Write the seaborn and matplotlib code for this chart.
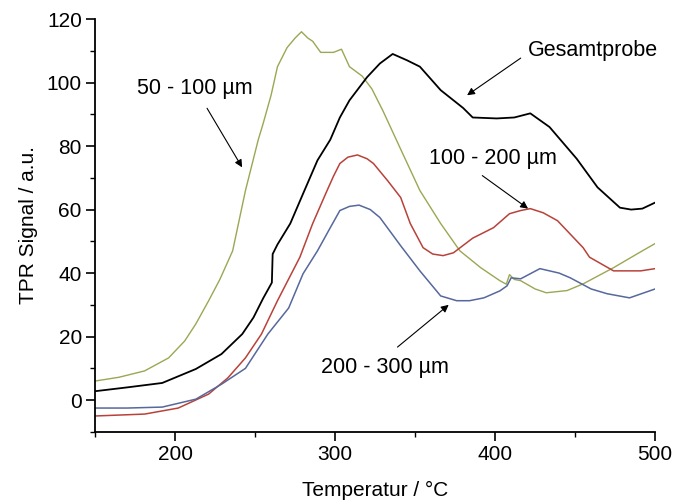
import numpy as np
import pandas as pd
import matplotlib
matplotlib.use("Agg")
import matplotlib.pyplot as plt
from matplotlib.ticker import MultipleLocator
import seaborn as sns

# ---- data ----
x_olive = [150, 165, 181, 196, 206, 213, 221, 228, 236, 244, 252, 255, 260, 264, 270, 275, 279, 283,
           286, 291, 299, 304, 309, 317, 323, 330, 341, 353, 366, 378, 391, 403, 407, 409, 412, 416,
           425, 432, 445, 455, 474, 492, 500]
y_olive = [6.0, 7.2, 9.2, 13.3, 18.6, 24, 31.3, 38, 47, 66, 82, 87, 96, 105, 111, 114, 116, 114,
           113, 109.5, 109.5, 110.5, 105, 102, 98, 91, 79, 66, 55.6, 47, 41.7, 37.6, 36.5, 39.5, 38, 37.6,
           35, 33.8, 34.5, 36.6, 41.7, 47, 49.3]

x_black = [150, 170, 192, 213, 229, 242, 249, 255, 260.5, 261, 264, 272, 280, 289, 297, 303, 309,
           320, 328, 336, 345, 353, 366, 380, 386, 401, 412, 422, 434, 451, 464, 478, 485, 492, 500]
y_black = [2.8, 4.0, 5.4, 9.8, 14.5, 20.8, 26, 32, 37, 46, 49, 55.6, 65, 75.5, 82, 89, 94.4,
           101.7, 106, 109, 107, 105, 97.6, 92, 89, 88.7, 89, 90.3, 86, 76, 67, 60.6, 60, 60.3, 62.2]

x_red = [150, 181, 202, 221, 233, 244, 254, 264, 278, 286, 295, 299, 303, 308, 314, 320, 324, 333, 341, 347,
         355, 361, 367.5, 374, 386, 399, 409, 416, 422, 430, 439, 455, 459, 474, 491, 500]
y_red = [-5, -4.4, -2.5, 1.9, 7, 13.3, 20.8, 31.3, 45, 55.6, 66, 70.5, 74.5, 76.5, 77.2, 76, 74.5, 69, 63.8, 55.6,
         48, 46, 45.5, 46.4, 51, 54.3, 58.7, 59.7, 60.3, 59, 56.5, 48, 45, 40.7, 40.7, 41.4]

x_blue = [150, 170, 192, 213, 229, 244, 258, 271, 280, 289, 297, 303, 309, 315, 322, 328, 341, 353, 366,
          376, 384, 393, 403, 407.5, 410, 416, 428, 440, 447, 460, 470, 484, 500]
y_blue = [-2.5, -2.5, -2.2, 0.3, 5, 10, 20.8, 29, 39.8, 47, 54.3, 59.7, 61, 61.4, 60, 57.5, 48.6, 40.7, 32.8,
          31.3, 31.3, 32.2, 34.4, 36, 38.5, 38.2, 41.4, 40, 38.5, 35, 33.5, 32.2, 35]

labels = ["50 - 100 µm", "Gesamtprobe", "100 - 200 µm", "200 - 300 µm"]
x_ticks = [200, 300, 400, 500]
y_ticks = [0, 20, 40, 60, 80, 100, 120]

sns.set_style("ticks")
plt.rcParams['font.family'] = ['Liberation Sans', 'DejaVu Sans']
plt.rcParams['font.size'] = 15
for k in ['text.color', 'axes.labelcolor', 'xtick.color', 'ytick.color', 'axes.edgecolor']:
    plt.rcParams[k] = 'black'

fig = plt.figure(figsize=(6.74, 5.01), dpi=100)
ax = fig.add_axes([0.141, 0.138, 0.831, 0.824])

series = [
    (x_olive, y_olive, "#9ca653", 1.0),
    (x_black, y_black, "#000000", 1.3),
    (x_red, y_red, "#b8423a", 1.1),
    (x_blue, y_blue, "#56689c", 1.1),
]
for xs, ys, c, lw in series:
    df = pd.DataFrame({"T": xs, "S": ys})
    sns.lineplot(data=df, x="T", y="S", ax=ax, color=c, lw=lw, sort=False, estimator=None)

ax.set_xlim(150, 500)
ax.set_ylim(-10, 120)
ax.set_xticks(x_ticks)
ax.set_yticks(y_ticks)
ax.xaxis.set_minor_locator(MultipleLocator(50))
ax.yaxis.set_minor_locator(MultipleLocator(10))
ax.tick_params(which='major', direction='out', length=6.5, width=1.2, labelsize=15, pad=3)
ax.tick_params(which='minor', direction='out', length=3.6, width=1.0)
sns.despine(ax=ax)
for s in ['left', 'bottom']:
    ax.spines[s].set_linewidth(1.3)
ax.set_xlabel("Temperatur / °C", fontsize=15, labelpad=12)
ax.set_ylabel("TPR Signal / a.u.", fontsize=15, labelpad=6)

arrow = dict(arrowstyle='-|>', color='black', lw=0.8, mutation_scale=11, shrinkA=0, shrinkB=0)
ann = [
    (labels[0], (212.5, 98.2), (220, 91.9), (241.9, 73.3)),
    (labels[1], (461, 110.2), (416, 107.7), (382.5, 96)),
    (labels[2], (398.75, 76.1), (392, 70.7), (420.6, 60.3)),
    (labels[3], (331, 10.4), (339, 16.7), (371, 30)),
]
for txt, tpos, a0, a1 in ann:
    ax.text(tpos[0], tpos[1], txt, ha='center', va='center', fontsize=15.5)
    ax.annotate("", xy=a1, xytext=a0, arrowprops=arrow)

fig.savefig("out.png", dpi=100)
